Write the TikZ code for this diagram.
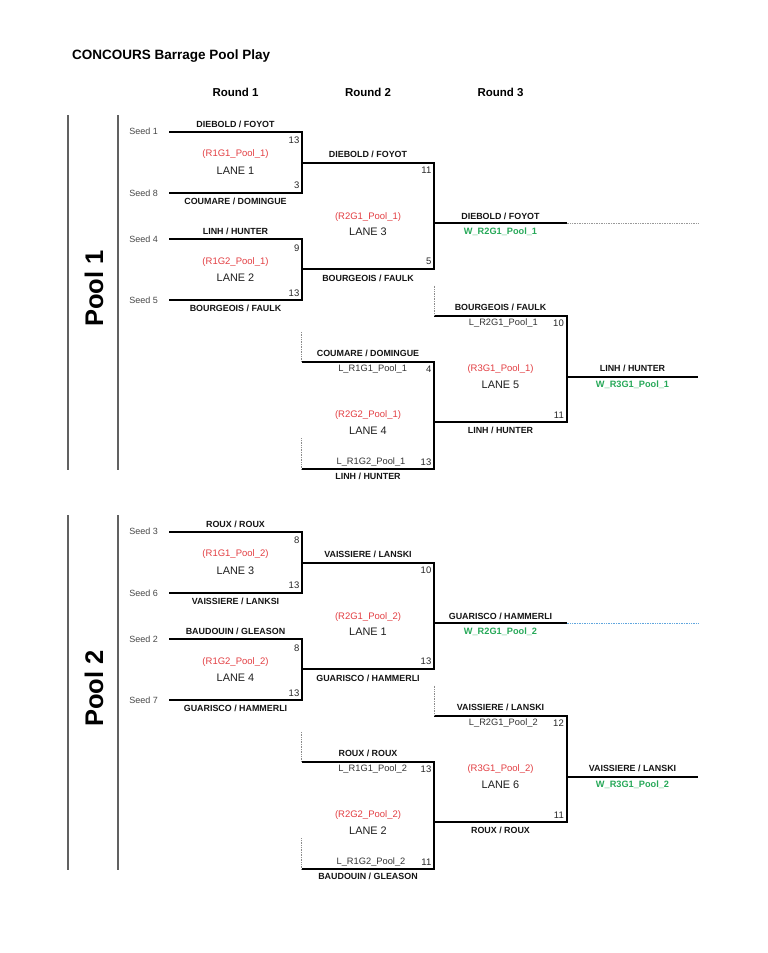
\documentclass[tikz,border=0pt]{standalone}
\usepackage{fontspec}
\setmainfont{Liberation Sans}
\usetikzlibrary{positioning}

\definecolor{lanered}{RGB}{226,62,66}
\definecolor{wingreen}{RGB}{38,168,88}
\definecolor{dotblue}{RGB}{96,166,222}

\tikzset{
  bracket/.style={line width=2pt, line join=miter},
  poolrule/.style={line width=1.3pt, black!62},
  feed/.style={densely dotted, line width=0.7pt, black!45},
  heading/.style={font=\bfseries\fontsize{11.5}{13}\selectfont, inner sep=0pt},
  team/.style={font=\bfseries\fontsize{8.9}{10}\selectfont, text=black!92, inner sep=0pt},
  seed/.style={font=\fontsize{9}{10}\selectfont, text=black!72, inner sep=0pt},
  game/.style={font=\fontsize{9.5}{11}\selectfont, text=lanered, inner sep=0pt},
  lane/.style={font=\fontsize{10.9}{12}\selectfont, text=black!88, inner sep=0pt},
  winner/.style={font=\bfseries\fontsize{9.2}{11}\selectfont, text=wingreen, inner sep=0pt},
  loser/.style={font=\fontsize{9.3}{11}\selectfont, text=black!80, inner sep=0pt},
  score/.style={font=\fontsize{9.5}{11}\selectfont, text=black!85, inner sep=0pt, anchor=east},
}

\begin{document}
\begin{tikzpicture}[x=1pt, y=-1pt]
  \useasboundingbox (0,0) rectangle (768,953);

  \node[anchor=west, font=\bfseries\fontsize{13.5}{16}\selectfont, inner sep=0pt] (title) at (72,55.7) {CONCOURS Barrage Pool Play};
  \node[heading] (round1) at (235.5,92) {Round 1};
  \node[heading] (round2) at (368,92) {Round 2};
  \node[heading] (round3) at (500.5,92) {Round 3};

  \foreach \p/\dy/\dc in {1/0/black!40, 2/400/dotblue} {
    \coordinate (o1-\p) at (68,115+\dy);
    \coordinate (o2-\p) at (68,470+\dy);
    \coordinate (i1-\p) at (118,115+\dy);
    \coordinate (i2-\p) at (118,470+\dy);
    \coordinate (t1-\p) at (169,131.7+\dy);
    \coordinate (t2-\p) at (169,193.3+\dy);
    \coordinate (t3-\p) at (169,239.3+\dy);
    \coordinate (t4-\p) at (169,300+\dy);
    \coordinate (g1a-\p) at (301.7,131.7+\dy);
    \coordinate (g1b-\p) at (301.7,193.3+\dy);
    \coordinate (g2a-\p) at (301.7,239.3+\dy);
    \coordinate (g2b-\p) at (301.7,300+\dy);
    \coordinate (w1-\p) at (301.7,162.7+\dy);
    \coordinate (w2-\p) at (301.7,269.3+\dy);
    \coordinate (g3a-\p) at (434,162.7+\dy);
    \coordinate (g3b-\p) at (434,269.3+\dy);
    \coordinate (l1d-\p) at (301.7,332+\dy);
    \coordinate (l1-\p) at (301.7,361.7+\dy);
    \coordinate (l2d-\p) at (301.7,438.3+\dy);
    \coordinate (l2-\p) at (301.7,469.3+\dy);
    \coordinate (g4a-\p) at (434,361.7+\dy);
    \coordinate (g4b-\p) at (434,469.3+\dy);
    \coordinate (w3-\p) at (434,223.3+\dy);
    \coordinate (w3e-\p) at (566.7,223.3+\dy);
    \coordinate (w3x-\p) at (698,223.3+\dy);
    \coordinate (l3d-\p) at (434,285.7+\dy);
    \coordinate (l3-\p) at (434,315.7+\dy);
    \coordinate (w4-\p) at (434,422.3+\dy);
    \coordinate (g5a-\p) at (566.7,315.7+\dy);
    \coordinate (g5b-\p) at (566.7,422.3+\dy);
    \coordinate (w5-\p) at (566.7,376.7+\dy);
    \coordinate (w5e-\p) at (698.3,376.7+\dy);

    \draw[poolrule] (o1-\p) -- (o2-\p);
    \draw[poolrule] (i1-\p) -- (i2-\p);
    \node[rotate=90, font=\bfseries\fontsize{25.5}{28}\selectfont, inner sep=0pt] (pool\p) at (94,288.5+\dy) {Pool \p};

    \draw[bracket] (t1-\p) -- (g1a-\p) -- (g1b-\p) -- (t2-\p);
    \draw[bracket] (t3-\p) -- (g2a-\p) -- (g2b-\p) -- (t4-\p);
    \draw[bracket] (w1-\p) -- (g3a-\p) -- (g3b-\p) -- (w2-\p);
    \draw[bracket] (l1-\p) -- (g4a-\p) -- (g4b-\p) -- (l2-\p);
    \draw[bracket] (l3-\p) -- (g5a-\p) -- (g5b-\p) -- (w4-\p);
    \draw[bracket] (w3-\p) -- (w3e-\p);
    \draw[bracket] (w5-\p) -- (w5e-\p);
    \draw[feed, draw=\dc] (w3e-\p) -- (w3x-\p);
    \draw[feed] (l1d-\p) -- (l1-\p);
    \draw[feed] (l2d-\p) -- (l2-\p);
    \draw[feed] (l3d-\p) -- (l3-\p);
  }

  \node[seed] (seed1) at (143.7,131.7) {Seed 1};
  \node[seed] (seed8) at (143.7,193.3) {Seed 8};
  \node[seed] (seed4) at (143.7,239.3) {Seed 4};
  \node[seed] (seed5) at (143.7,300) {Seed 5};
  \node[team] (a1-1) at (235.5,124) {DIEBOLD / FOYOT};
  \node[team] (a2-1) at (235.5,201.7) {COUMARE / DOMINGUE};
  \node[team] (a3-1) at (235.5,231.3) {LINH / HUNTER};
  \node[team] (a4-1) at (235.5,308.3) {BOURGEOIS / FAULK};
  \node[game] (m1-1) at (235.5,154.3) {(R1G1\_Pool\_1)};
  \node[lane] (n1-1) at (235.5,170.7) {LANE 1};
  \node[game] (m2-1) at (235.5,261.7) {(R1G2\_Pool\_1)};
  \node[lane] (n2-1) at (235.5,277.7) {LANE 2};
  \node[score] (c1-1) at (299.5,140) {13};
  \node[score] (c2-1) at (299.5,185.7) {3};
  \node[score] (c3-1) at (299.5,248.3) {9};
  \node[score] (c4-1) at (299.5,293.3) {13};
  \node[team] (b1-1) at (368,154.3) {DIEBOLD / FOYOT};
  \node[team] (b2-1) at (368,278.3) {BOURGEOIS / FAULK};
  \node[game] (m3-1) at (368,217.3) {(R2G1\_Pool\_1)};
  \node[lane] (n3-1) at (368,232) {LANE 3};
  \node[score] (c5-1) at (431.5,170.7) {11};
  \node[score] (c6-1) at (431.5,261.7) {5};
  \node[team] (b3-1) at (368,353.3) {COUMARE / DOMINGUE};
  \node[loser] (x1-1) at (372.7,369) {L\_R1G1\_Pool\_1};
  \node[score] (c7-1) at (431.5,369) {4};
  \node[game] (m4-1) at (368,415) {(R2G2\_Pool\_1)};
  \node[lane] (n4-1) at (368,430.7) {LANE 4};
  \node[loser] (x2-1) at (371,462.3) {L\_R1G2\_Pool\_1};
  \node[score] (c8-1) at (431.5,462.3) {13};
  \node[team] (b4-1) at (368,476.7) {LINH / HUNTER};
  \node[team] (d1-1) at (500.5,216.7) {DIEBOLD / FOYOT};
  \node[winner] (v1-1) at (500.5,231.7) {W\_R2G1\_Pool\_1};
  \node[team] (d2-1) at (500.5,307.3) {BOURGEOIS / FAULK};
  \node[loser] (x3-1) at (503.3,323.3) {L\_R2G1\_Pool\_1};
  \node[score] (c9-1) at (564,323.3) {10};
  \node[game] (m5-1) at (500.5,369) {(R3G1\_Pool\_1)};
  \node[lane] (n5-1) at (500.5,384.3) {LANE 5};
  \node[score] (c10-1) at (564,415) {11};
  \node[team] (d3-1) at (500.5,430.7) {LINH / HUNTER};
  \node[team] (f1-1) at (632.5,368.3) {LINH / HUNTER};
  \node[winner] (v2-1) at (632.5,384.3) {W\_R3G1\_Pool\_1};

  \begin{scope}[yshift=-400pt]
    \node[seed] (seed3) at (143.7,131.7) {Seed 3};
    \node[seed] (seed6) at (143.7,193.3) {Seed 6};
    \node[seed] (seed2) at (143.7,239.3) {Seed 2};
    \node[seed] (seed7) at (143.7,300) {Seed 7};
    \node[team] (a1-2) at (235.5,124) {ROUX / ROUX};
    \node[team] (a2-2) at (235.5,201.7) {VAISSIERE / LANKSI};
    \node[team] (a3-2) at (235.5,231.3) {BAUDOUIN / GLEASON};
    \node[team] (a4-2) at (235.5,308.3) {GUARISCO / HAMMERLI};
    \node[game] (m1-2) at (235.5,154.3) {(R1G1\_Pool\_2)};
    \node[lane] (n1-2) at (235.5,170.7) {LANE 3};
    \node[game] (m2-2) at (235.5,261.7) {(R1G2\_Pool\_2)};
    \node[lane] (n2-2) at (235.5,277.7) {LANE 4};
    \node[score] (c1-2) at (299.5,140) {8};
    \node[score] (c2-2) at (299.5,185.7) {13};
    \node[score] (c3-2) at (299.5,248.3) {8};
    \node[score] (c4-2) at (299.5,293.3) {13};
    \node[team] (b1-2) at (368,154.3) {VAISSIERE / LANSKI};
    \node[team] (b2-2) at (368,278.3) {GUARISCO / HAMMERLI};
    \node[game] (m3-2) at (368,217.3) {(R2G1\_Pool\_2)};
    \node[lane] (n3-2) at (368,232) {LANE 1};
    \node[score] (c5-2) at (431.5,170.7) {10};
    \node[score] (c6-2) at (431.5,261.7) {13};
    \node[team] (b3-2) at (368,353.3) {ROUX / ROUX};
    \node[loser] (x1-2) at (372.7,369) {L\_R1G1\_Pool\_2};
    \node[score] (c7-2) at (431.5,369) {13};
    \node[game] (m4-2) at (368,415) {(R2G2\_Pool\_2)};
    \node[lane] (n4-2) at (368,430.7) {LANE 2};
    \node[loser] (x2-2) at (371,462.3) {L\_R1G2\_Pool\_2};
    \node[score] (c8-2) at (431.5,462.3) {11};
    \node[team] (b4-2) at (368,476.7) {BAUDOUIN / GLEASON};
    \node[team] (d1-2) at (500.5,216.7) {GUARISCO / HAMMERLI};
    \node[winner] (v1-2) at (500.5,231.7) {W\_R2G1\_Pool\_2};
    \node[team] (d2-2) at (500.5,307.3) {VAISSIERE / LANSKI};
    \node[loser] (x3-2) at (503.3,323.3) {L\_R2G1\_Pool\_2};
    \node[score] (c9-2) at (564,323.3) {12};
    \node[game] (m5-2) at (500.5,369) {(R3G1\_Pool\_2)};
    \node[lane] (n5-2) at (500.5,384.3) {LANE 6};
    \node[score] (c10-2) at (564,415) {11};
    \node[team] (d3-2) at (500.5,430.7) {ROUX / ROUX};
    \node[team] (f1-2) at (632.5,368.3) {VAISSIERE / LANSKI};
    \node[winner] (v2-2) at (632.5,384.3) {W\_R3G1\_Pool\_2};
  \end{scope}
\end{tikzpicture}
\end{document}
